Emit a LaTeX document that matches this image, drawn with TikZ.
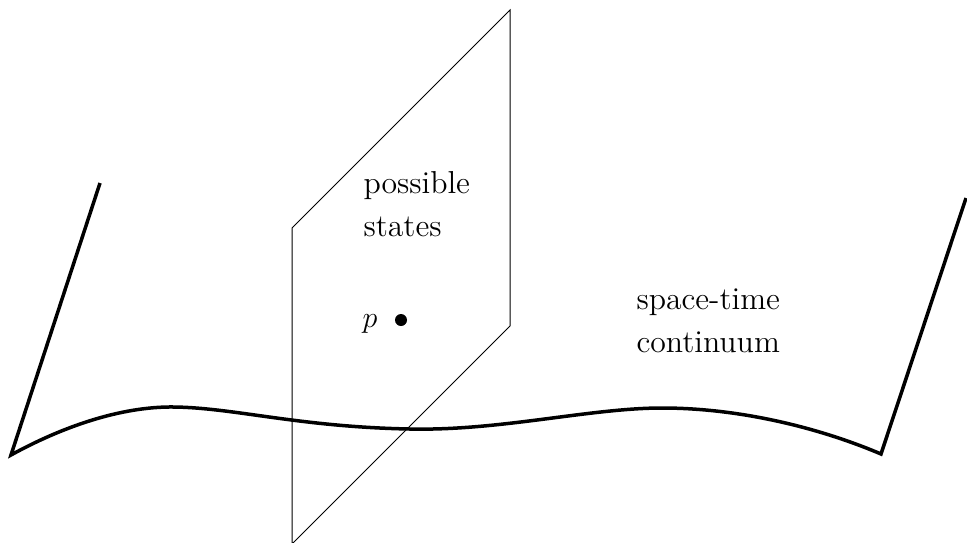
\documentclass[tikz,border=0pt]{standalone}
\begin{document}
\begin{tikzpicture}[x=0.4pt,y=-0.4pt,
  surface/.style={line width=1.4pt,line join=miter},
  plane/.style={line width=0.4pt},
  lbl/.style={anchor=base west,inner sep=0pt,align=left,font=\fontsize{12.7}{17.2}\selectfont}]
\useasboundingbox (0,0) rectangle (967,542);
% plane of possible states
\coordinate (pa) at (292,228);
\coordinate (pb) at (510,10);
\coordinate (pc) at (510,326);
\coordinate (pd) at (292,544);
\draw[plane] (pa) -- (pb) -- (pc) -- (pd) -- cycle;
% space-time surface
\coordinate (s0) at (100,183);
\coordinate (s1) at (11,455);
\coordinate (s2) at (175,407);
\coordinate (s3) at (410,429);
\coordinate (s4) at (662,408);
\coordinate (s5) at (881,454);
\coordinate (s6) at (966,198);
\draw[surface] (s0) -- (s1)
  .. controls (60,428) and (120,406) .. (s2)
  .. controls (235,408) and (300,427) .. (s3)
  .. controls (500,431) and (590,408) .. (s4)
  .. controls (740,408) and (820,428) .. (s5)
  -- (s6);
% labels (base = baseline of the last line)
\node[lbl] (ps) at (363,236) {possible\\states};
\node[lbl] (st) at (636,352) {space-time\\continuum};
\node[lbl] (p) at (362,327) {$p$};
\fill (401,320) circle (2.4pt) node (pt) {};
\end{tikzpicture}
\end{document}
